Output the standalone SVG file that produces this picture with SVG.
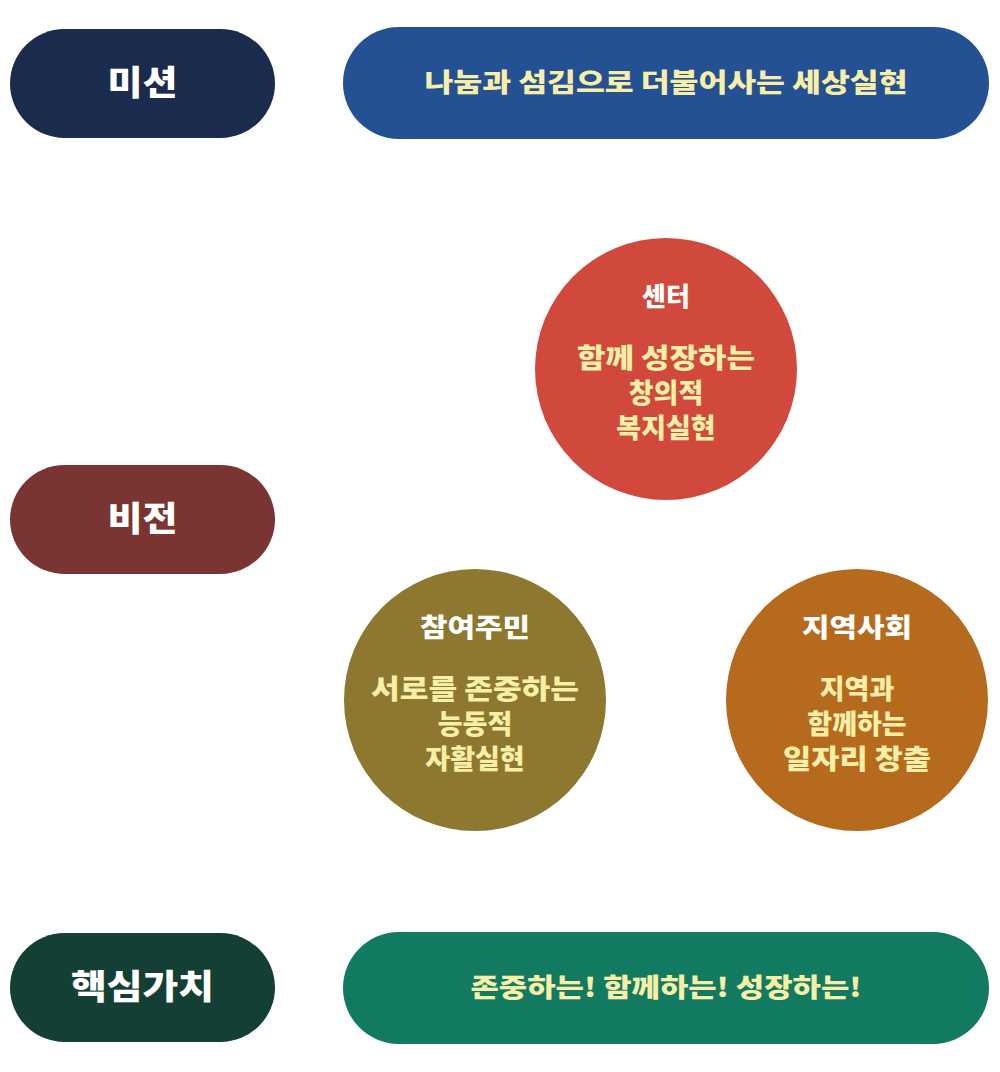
<svg xmlns="http://www.w3.org/2000/svg" width="1000" height="1072" viewBox="0 0 1000 1072">
<style>
text{font-family:"Noto Sans CJK KR","Noto Sans",sans-serif;font-weight:900;text-anchor:middle}
.lab{fill:#fff;font-size:34px}
.t{fill:#fff;font-size:26px}
.y{fill:#f7efa8;font-size:27px}
.py{fill:#f7efa8;font-size:26px}
</style>
<rect width="1000" height="1072" fill="#fff"/>
<g id="mission"><rect x="10" y="29" width="265" height="109" rx="54.5" fill="#1b2b4e"/><text class="lab" x="142.5" y="95" textLength="70" lengthAdjust="spacingAndGlyphs">미션</text></g>
<g id="mission-text"><rect x="343" y="27" width="646" height="112" rx="56" fill="#235194"/><text class="py" x="666" y="92" textLength="483" lengthAdjust="spacingAndGlyphs">나눔과 섬김으로 더불어사는 세상실현</text></g>
<g id="vision"><rect x="10" y="465" width="265" height="109" rx="54.5" fill="#7a3432"/><text class="lab" x="142.5" y="531" textLength="70" lengthAdjust="spacingAndGlyphs">비전</text></g>
<g id="core"><rect x="10" y="933" width="265" height="109" rx="54.5" fill="#143f34"/><text class="lab" x="142.5" y="999" textLength="143" lengthAdjust="spacingAndGlyphs">핵심가치</text></g>
<g id="core-text"><rect x="343" y="932" width="646" height="112" rx="56" fill="#137a62"/><text class="py" x="666" y="997" textLength="391" lengthAdjust="spacingAndGlyphs">존중하는! 함께하는! 성장하는!</text></g>
<g id="center"><circle cx="666" cy="369" r="131" fill="#d1483d"/><text class="t" x="666" y="306">센터</text><text class="y" x="666" y="368" textLength="178" lengthAdjust="spacingAndGlyphs">함께 성장하는</text><text class="y" x="666" y="403">창의적</text><text class="y" x="666" y="438">복지실현</text></g>
<g id="residents"><circle cx="475" cy="700" r="131" fill="#8e772e"/><text class="t" x="475" y="637" textLength="110" lengthAdjust="spacingAndGlyphs">참여주민</text><text class="y" x="475" y="699" textLength="208" lengthAdjust="spacingAndGlyphs">서로를 존중하는</text><text class="y" x="475" y="734">능동적</text><text class="y" x="475" y="769">자활실현</text></g>
<g id="community"><circle cx="857" cy="700" r="131" fill="#b56a1e"/><text class="t" x="857" y="637" textLength="110" lengthAdjust="spacingAndGlyphs">지역사회</text><text class="y" x="857" y="699">지역과</text><text class="y" x="857" y="734">함께하는</text><text class="y" x="857" y="769" textLength="148" lengthAdjust="spacingAndGlyphs">일자리 창출</text></g>
<g id="connectors"></g>
</svg>
